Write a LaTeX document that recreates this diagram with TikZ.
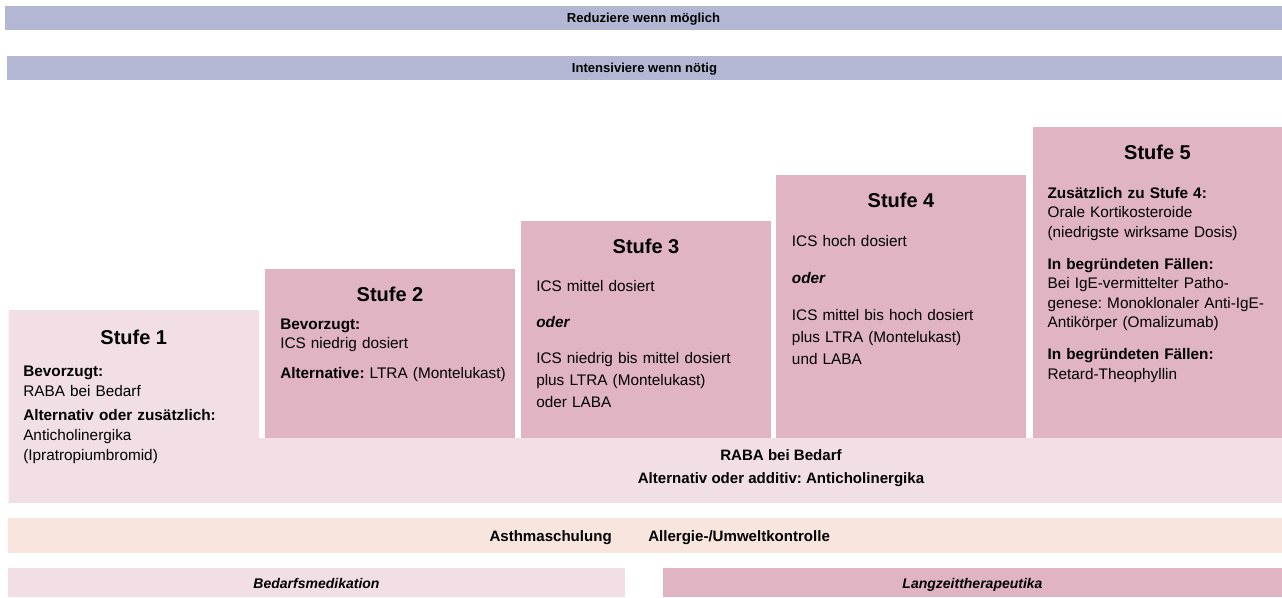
\documentclass[tikz,border=0pt]{standalone}
\usepackage{fontspec}
\setmainfont{Liberation Sans}
\usepackage{xcolor}
\usepackage{tikz}
\usetikzlibrary{positioning}
\definecolor{barblue}{HTML}{B3B7D3}
\definecolor{longpink}{HTML}{E1B4C4}
\definecolor{needpink}{HTML}{F2DFE5}
\definecolor{basepeach}{HTML}{F8E5DE}
\tikzstyle{bartext}=[font=\fontsize{9.8}{12}\selectfont\bfseries,inner sep=0pt,anchor=base]
\tikzstyle{headtext}=[font=\fontsize{15}{18}\selectfont\bfseries,inner sep=0pt,anchor=base]
\tikzstyle{bodytext}=[font=\fontsize{11.5}{14.6}\selectfont,inner sep=0pt,
  anchor=base west,text width=172pt,align=left]
\tikzstyle{bandtext}=[font=\fontsize{11.3}{13}\selectfont\bfseries,inner sep=0pt,anchor=base]
\tikzstyle{legtext}=[font=\fontsize{10.5}{12}\selectfont\bfseries\itshape,inner sep=0pt,anchor=base]
\frenchspacing

\begin{document}
\begin{tikzpicture}[x=0.75pt,y=-0.75pt]
  \useasboundingbox (0,0) rectangle (1282,597);
  \fill[barblue] (5,6) rectangle (1282,30);
  \fill[barblue] (7,56) rectangle (1282,80);
  \node[bartext] (down) at (643.5,22.7) {Reduziere wenn möglich};
  \node[bartext] (up) at (644.5,72.7) {Intensiviere wenn nötig};

  \fill[needpink] (8.5,310) -- (259,310) -- (259,438) -- (1282,438)
    -- (1282,503) -- (8.5,503) -- cycle;
  \fill[longpink] (265,268.5) rectangle (515,438);
  \fill[longpink] (521,221) rectangle (771,438);
  \fill[longpink] (776,175) rectangle (1026,438);
  \fill[longpink] (1033,127) rectangle (1282,438);

  \node[headtext] (h1) at (133.75,344) {Stufe 1};
  \node[headtext] (h2) at (390,301) {Stufe 2};
  \node[headtext] (h3) at (646,253) {Stufe 3};
  \node[headtext] (h4) at (901,207) {Stufe 4};
  \node[headtext] (h5) at (1157.5,159) {Stufe 5};

  \node[bodytext,font=\fontsize{11.5}{15}\selectfont] (b1) at (23,376)
    {\textbf{Bevorzugt:}\\RABA bei Bedarf\\[3.5pt]\textbf{Alternativ oder zusätzlich:}\\Anticholinergika\\(Ipratropiumbromid)};
  \node[bodytext,font=\fontsize{11.5}{14.5}\selectfont] (b2) at (280,329)
    {\textbf{Bevorzugt:}\\ICS niedrig dosiert\\[8pt]\textbf{Alternative:} LTRA (Montelukast)};
  \node[bodytext,font=\fontsize{11.5}{16.5}\selectfont] (b3) at (536,291.7)
    {ICS mittel dosiert\\[10pt]\textbf{\textit{oder}}\\[11pt]ICS niedrig bis mittel dosiert\\plus LTRA (Montelukast)\\oder LABA};
  \node[bodytext,font=\fontsize{11.5}{16.5}\selectfont] (b4) at (791.7,246.7)
    {ICS hoch dosiert\\[11pt]\textbf{\textit{oder}}\\[11pt]ICS mittel bis hoch dosiert\\plus LTRA (Montelukast)\\und LABA};
  \node[bodytext] (b5) at (1047.3,198.3)
    {\textbf{Zusätzlich zu Stufe 4:}\\Orale Kortikosteroide\\(niedrigste wirksame Dosis)\\[9.4pt]\textbf{In begründeten Fällen:}\\Bei IgE-vermittelter Patho-\\genese: Monoklonaler Anti-IgE-\\Antikörper (Omalizumab)\\[9.4pt]\textbf{In begründeten Fällen:}\\Retard-Theophyllin};

  \node[bandtext] (need) at (781,460.4) {RABA bei Bedarf};
  \node[bandtext] (addon) at (781,483.4) {Alternativ oder additiv: Anticholinergika};

  \fill[basepeach] (8,518) rectangle (1282,553);
  \node[bandtext,anchor=base east] (edu) at (612,541) {Asthmaschulung};
  \node[bandtext,anchor=base west] (env) at (648,541) {Allergie-/Umweltkontrolle};

  \fill[needpink] (8,568) rectangle (625,597);
  \fill[longpink] (663,568) rectangle (1282,597);
  \node[legtext] (legneed) at (316.5,588) {Bedarfsmedikation};
  \node[legtext] (leglong) at (972.5,588) {Langzeittherapeutika};
\end{tikzpicture}
\end{document}
